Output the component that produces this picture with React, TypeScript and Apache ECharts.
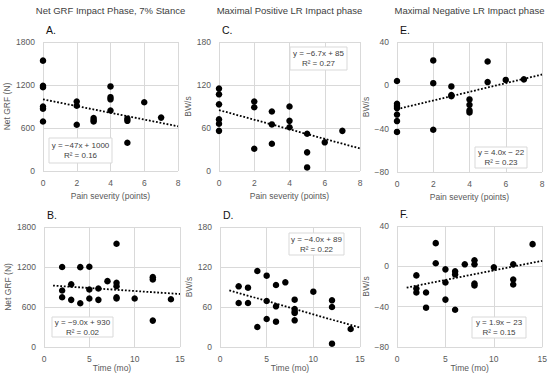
import React, { useEffect, useRef } from "react";
import * as echarts from "echarts";

// ---- Data ----
const grfPain: number[][] = [
  [0, 1540], [0, 1190], [0, 1170], [0, 900], [0, 870], [0, 690],
  [2, 970], [2, 910], [2, 645], [3, 740], [3, 710], [3, 690],
  [4, 1180], [4, 1030], [4, 1000], [4, 845], [5, 730], [5, 700], [5, 395],
  [6, 960], [7, 745],
];
const posPain: number[][] = [
  [0, 115], [0, 107], [0, 93], [0, 72], [0, 66], [0, 56],
  [2, 97], [2, 89], [2, 31], [3, 83], [3, 65], [3, 38],
  [4, 90], [4, 70], [4, 61], [5, 52], [5, 26], [5, 5], [6, 40], [7, 56],
];
const negPain: number[][] = [
  [0, 4], [0, -17], [0, -19], [0, -21], [0, -27], [0, -33], [0, -43],
  [2, 23], [2, 2], [2, -41], [3, -1], [3, -9], [3, -10],
  [4, -13], [4, -18], [4, -23], [4, -25], [5, 22], [5, 3], [6, 5], [7, 5.5],
];
const grfTime: number[][] = [
  [2, 1200], [2, 847], [2, 747], [3, 940], [3, 707], [4, 1198], [4, 657],
  [5, 1203], [5, 862], [5, 727], [6, 877], [6, 707], [7, 988],
  [8, 1549], [8, 963], [8, 913], [8, 747], [8, 727], [10, 727],
  [12, 1048], [12, 1013], [12, 396], [14, 717],
];
const posTime: number[][] = [
  [2, 91], [2, 66], [3, 89], [3, 66], [4, 114], [4, 30],
  [5, 107], [5, 69], [5, 42], [6, 93], [6, 61], [6, 38], [7, 97],
  [8, 71], [8, 57], [8, 53], [8, 51], [8, 40], [10, 83],
  [12, 70], [12, 60], [12, 5], [14, 27],
];
const negTime: number[][] = [
  [2, -9], [2, -22], [2, -26], [3, -26], [3, -41], [4, 23], [4, 3],
  [5, -3], [5, -16], [5, -33], [6, -5], [6, -8], [6, -43], [7, 2],
  [8, 6], [8, 2], [8, -17], [8, -19], [10, -1],
  [12, 2], [12, -13], [12, -18], [14, 22],
];

const panelData = [grfPain, posPain, negPain, grfTime, posTime, negTime];
const panelLetters = ["A.", "C.", "E.", "B.", "D.", "F."];
const columnTitles = [
  "Net GRF Impact Phase, 7% Stance",
  "Maximal Positive LR Impact phase",
  "Maximal Negative LR Impact phase",
];
const yNames = ["Net GRF (N)", "BW/s", "BW/s", "Net GRF (N)", "BW/s", "BW/s"];
const xNames = ["Pain severity (points)", "Pain severity (points)", "Pain severity (points)", "Time (mo)", "Time (mo)", "Time (mo)"];
const yMin = [0, 0, -80, 0, 0, -80];
const yMax = [1800, 180, 40, 1800, 180, 40];
const yStep = [600, 60, 40, 600, 60, 40];
const xMax = [8, 8, 8, 15, 15, 15];
const xStep = [2, 2, 2, 5, 5, 5];
const slopes = [-47, -6.7, 4.0, -9.0, -4.0, 1.9];
const intercepts = [1000, 85, -22, 930, 89, -23];
const fitStart = [0, 0, 0, 1, 1, 1];
const fitEnd = [8, 8, 8, 15, 15, 15];
const eqTexts = [
  "y = −47x + 1000", "y = −6.7x + 85", "y = 4.0x − 22",
  "y = −9.0x + 930", "y = −4.0x + 89", "y = 1.9x − 23",
];
const r2Texts = ["R² = 0.16", "R² = 0.27", "R² = 0.23", "R² = 0.02", "R² = 0.22", "R² = 0.15"];

// ---- Layout (pixels) ----
const grids = [
  { left: 43, top: 42, width: 135, height: 129 },
  { left: 219, top: 42, width: 141, height: 129 },
  { left: 397, top: 42, width: 145, height: 130 },
  { left: 44, top: 227, width: 136, height: 120 },
  { left: 220, top: 227, width: 140, height: 120 },
  { left: 397, top: 226, width: 146, height: 121 },
];
const yNameGaps = [32, 24, 21, 32, 24, 21];
const eqBoxes = [
  { x: 49, y: 138, w: 63, h: 25 },
  { x: 290, y: 47, w: 57, h: 23 },
  { x: 475, y: 147, w: 52, h: 21 },
  { x: 52, y: 317, w: 61, h: 20 },
  { x: 289, y: 233, w: 55, h: 22 },
  { x: 472, y: 317, w: 54, h: 21 },
];

const FONT = "'Liberation Sans', Arial, sans-serif";
const GRAY = "#595959";

export default function App() {
  const ref = useRef<HTMLDivElement>(null);
  useEffect(() => {
    document.body.style.margin = "0";
    if (!ref.current) return;
    const chart = echarts.init(ref.current, undefined, { renderer: "svg" });

    const xAxis = grids.map((_, i) => ({
      type: "value",
      gridIndex: i,
      min: 0,
      max: xMax[i],
      interval: xStep[i],
      name: xNames[i],
      nameLocation: "middle",
      nameGap: i < 3 ? 20 : 16,
      nameTextStyle: { color: GRAY, fontSize: 8.5, fontFamily: FONT },
      axisLine: { show: false },
      axisTick: { show: false },
      axisLabel: { color: GRAY, fontSize: 8.5, fontFamily: FONT, margin: 7 },
      splitLine: { show: true, lineStyle: { color: "#d9d9d9", width: 1 } },
    }));
    const yAxis = grids.map((_, i) => ({
      type: "value",
      gridIndex: i,
      min: yMin[i],
      max: yMax[i],
      interval: yStep[i],
      name: yNames[i],
      nameLocation: "middle",
      nameGap: yNameGaps[i],
      nameTextStyle: { color: GRAY, fontSize: 8.5, fontFamily: FONT },
      axisLine: { show: false },
      axisTick: { show: false },
      axisLabel: {
        color: GRAY, fontSize: 8.5, fontFamily: FONT, margin: 8,
        formatter: (v: number) => (v < 0 ? "−" + Math.abs(v) : String(v)),
      },
      splitLine: { show: true, lineStyle: { color: "#d9d9d9", width: 1 } },
    }));

    const series: any[] = [];
    panelData.forEach((d, i) => {
      series.push({
        type: "scatter",
        xAxisIndex: i,
        yAxisIndex: i,
        data: d,
        symbolSize: 6.5,
        itemStyle: { color: "#000", opacity: 1 },
        z: 3,
      });
      series.push({
        type: "line",
        xAxisIndex: i,
        yAxisIndex: i,
        data: [
          [fitStart[i], slopes[i] * fitStart[i] + intercepts[i]],
          [fitEnd[i], slopes[i] * fitEnd[i] + intercepts[i]],
        ],
        symbol: "none",
        lineStyle: { color: "#000", width: 1.8, type: [1.8, 1.8] },
        z: 4,
      });
    });

    const graphic: any[] = [];
    columnTitles.forEach((t, c) => {
      const g = grids[c];
      graphic.push({
        type: "text",
        x: g.left + g.width / 2,
        y: 10,
        style: {
          text: t, fill: "#404040", font: `9.5px ${FONT}`,
          textAlign: "center", textVerticalAlign: "middle", align: "center", verticalAlign: "middle",
        },
      });
    });
    panelLetters.forEach((t, i) => {
      const g = grids[i];
      graphic.push({
        type: "text",
        x: g.left + 3,
        y: g.top - 12,
        style: {
          text: t, fill: "#111", font: `10.5px ${FONT}`,
          textAlign: "left", textVerticalAlign: "middle", align: "left", verticalAlign: "middle",
        },
      });
    });
    eqBoxes.forEach((b, i) => {
      graphic.push({
        type: "rect",
        shape: { x: b.x, y: b.y, width: b.w, height: b.h },
        style: { fill: "#fff", stroke: "#d9d9d9", lineWidth: 1 },
        z: 10,
      });
      graphic.push({
        type: "text",
        x: b.x + b.w / 2,
        y: b.y + b.h / 2 - 5,
        z: 11,
        style: {
          text: eqTexts[i], fill: "#404040", font: `8px ${FONT}`,
          textAlign: "center", textVerticalAlign: "middle", align: "center", verticalAlign: "middle",
        },
      });
      graphic.push({
        type: "text",
        x: b.x + b.w / 2,
        y: b.y + b.h / 2 + 5,
        z: 11,
        style: {
          text: r2Texts[i], fill: "#404040", font: `8px ${FONT}`,
          textAlign: "center", textVerticalAlign: "middle", align: "center", verticalAlign: "middle",
        },
      });
    });

    chart.setOption({
      animation: false,
      backgroundColor: "#fff",
      grid: grids.map((g) => ({ ...g, containLabel: false })),
      xAxis,
      yAxis,
      series,
      graphic,
    });
    return () => chart.dispose();
  }, []);
  return <div ref={ref} style={{ width: 550, height: 378 }} />;
}
